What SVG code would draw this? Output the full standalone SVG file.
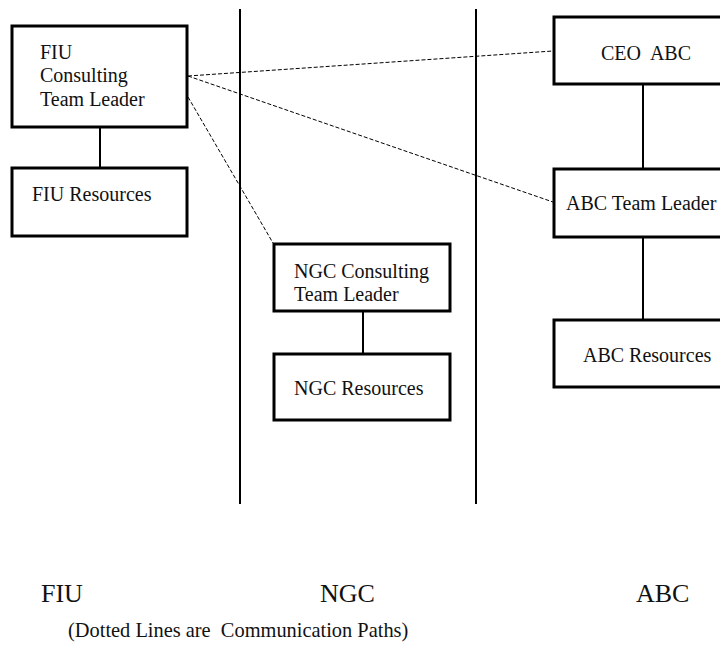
<svg xmlns="http://www.w3.org/2000/svg" width="720" height="651" viewBox="0 0 720 651">
<style>
.box{fill:#fff;stroke:#000;stroke-width:3}
.t{font-family:"Liberation Serif","Times New Roman",serif;font-size:20px;fill:#111}
.big{font-family:"Liberation Serif","Times New Roman",serif;font-size:26px;fill:#111}
.foot{font-family:"Liberation Serif","Times New Roman",serif;font-size:20.4px;fill:#111}
.solid{stroke:#000;stroke-width:2;fill:none}
.dash{stroke:#000;stroke-width:1;stroke-dasharray:4 2;fill:none}
</style>
<rect width="720" height="651" fill="#fff"/>
<g id="lanes">
<line class="solid" x1="240" y1="9" x2="240" y2="504"/>
<line class="solid" x1="476" y1="9" x2="476" y2="504"/>
</g>
<g id="connectors">
<line class="solid" x1="100" y1="127" x2="100" y2="168"/>
<line class="solid" x1="363" y1="311" x2="363" y2="354"/>
<line class="solid" x1="643" y1="84" x2="643" y2="169"/>
<line class="solid" x1="643" y1="237" x2="643" y2="320"/>
<line class="dash" x1="188" y1="76" x2="553" y2="51"/>
<line class="dash" x1="188" y1="76" x2="553" y2="202"/>
<line class="dash" x1="188" y1="97" x2="273" y2="243"/>
</g>
<g id="fiu-leader">
<rect class="box" x="12" y="26" width="175" height="101"/>
<text class="t" x="40" y="59">FIU</text>
<text class="t" x="40" y="82">Consulting</text>
<text class="t" x="40" y="106">Team Leader</text>
</g>
<g id="fiu-resources">
<rect class="box" x="12" y="168" width="175" height="68"/>
<text class="t" x="32" y="201">FIU Resources</text>
</g>
<g id="ngc-leader">
<rect class="box" x="274" y="244" width="176" height="67"/>
<text class="t" x="294" y="278">NGC Consulting</text>
<text class="t" x="294" y="301">Team Leader</text>
</g>
<g id="ngc-resources">
<rect class="box" x="274" y="354" width="176" height="66"/>
<text class="t" x="294" y="395">NGC Resources</text>
</g>
<g id="ceo-abc">
<rect class="box" x="554" y="17" width="180" height="67"/>
<text class="t" x="601" y="60" xml:space="preserve">CEO  ABC</text>
</g>
<g id="abc-leader">
<rect class="box" x="554" y="169" width="180" height="68"/>
<text class="t" x="566" y="210">ABC Team Leader</text>
</g>
<g id="abc-resources">
<rect class="box" x="554" y="320" width="180" height="67"/>
<text class="t" x="583" y="362">ABC Resources</text>
</g>
<g id="labels">
<text class="big" x="41" y="602">FIU</text>
<text class="big" x="320" y="602">NGC</text>
<text class="big" x="636" y="602">ABC</text>
<text class="foot" x="68" y="637" xml:space="preserve">(Dotted Lines are  Communication Paths)</text>
</g>
</svg>
